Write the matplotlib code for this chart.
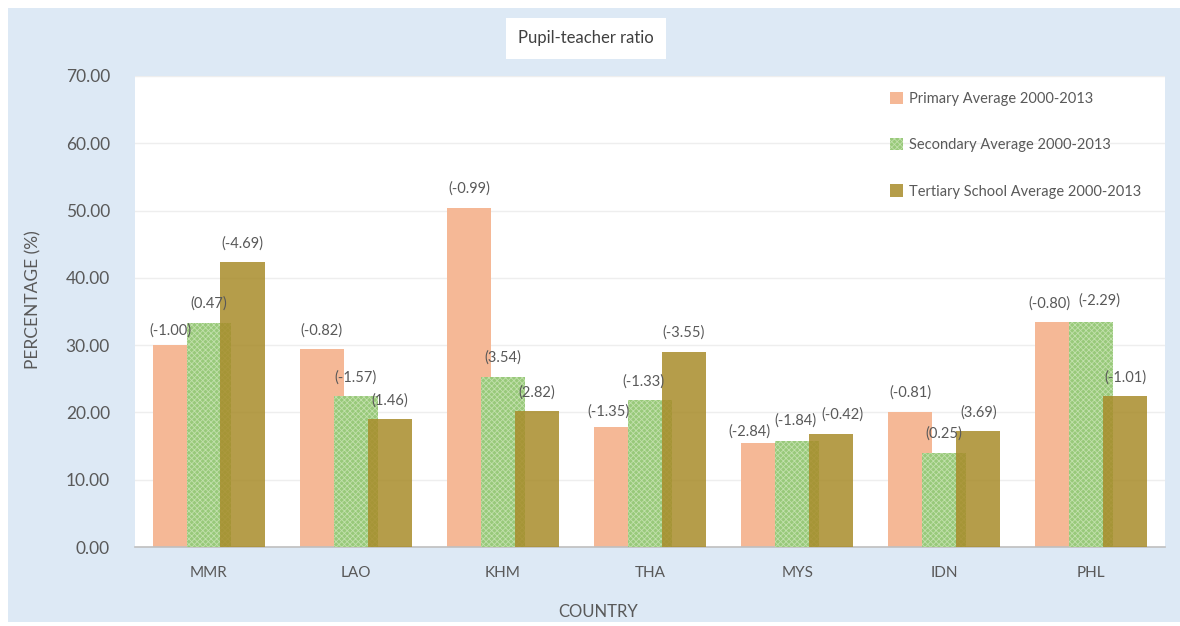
import numpy as np
import matplotlib.pyplot as plt
from matplotlib.patches import Rectangle

plt.rcParams['font.family'] = ['Lato', 'DejaVu Sans']
plt.rcParams['hatch.linewidth'] = 0.6

countries = ['MMR', 'LAO', 'KHM', 'THA', 'MYS', 'IDN', 'PHL']
primary = [30.0, 29.4, 50.4, 17.8, 15.5, 20.1, 33.4]
secondary = [33.3, 22.4, 25.3, 21.8, 15.7, 14.0, 33.5]
tertiary = [42.3, 19.0, 20.2, 29.0, 16.8, 17.2, 22.4]
primary_lbl = ['(-1.00)', '(-0.82)', '(-0.99)', '(-1.35)', '(-2.84)', '(-0.81)', '(-0.80)']
secondary_lbl = ['(0.47)', '(-1.57)', '(3.54)', '(-1.33)', '(-1.84)', '(0.25)', '(-2.29)']
tertiary_lbl = ['(-4.69)', '(1.46)', '(2.82)', '(-3.55)', '(-0.42)', '(3.69)', '(-1.01)']

# pixel nudges for labels that would otherwise collide: (series, country) -> (dx, dy)
nudge = {(0, 0): (-4, -4), (0, 3): (-8, -3), (1, 3): (-7, 0),
         (0, 4): (-14, -8), (1, 4): (-2, 2), (2, 4): (11, 0),
         (0, 6): (-8, 0), (1, 6): (8, 2)}

txt = '#595959'
bg = '#dde9f5'

fig = plt.figure(figsize=(11.8, 6.26), dpi=100)
fig.patch.set_facecolor('white')
fig.patches.append(Rectangle((8/1180, 0.006), 1 - 8/1180, 1 - 8/626 - 0.006,
                             transform=fig.transFigure, facecolor=bg,
                             edgecolor='none', zorder=-10))

ax = fig.add_axes([135/1180, 1 - 547/626, 1030/1180, 471/626])
ax.set_facecolor('white')

x = np.arange(len(countries))
w = 0.30
step = 0.231

b1 = ax.bar(x - step, primary, w, color='#f5b896', linewidth=0, zorder=2,
            label='Primary Average 2000-2013')
b2 = ax.bar(x, secondary, w, facecolor='#98c97a', edgecolor='#c2e0ac',
            hatch='xxxxxx', linewidth=0, zorder=3,
            label='Secondary Average 2000-2013')
b3 = ax.bar(x + step, tertiary, w, color='#a88c2a', alpha=0.85, linewidth=0,
            zorder=4, label='Tertiary School Average 2000-2013')

for k, (bars, labels) in enumerate([(b1, primary_lbl), (b2, secondary_lbl),
                                    (b3, tertiary_lbl)]):
    for i, (bar, lab) in enumerate(zip(bars, labels)):
        dx, dy = nudge.get((k, i), (0, 0))
        ax.annotate(lab, (bar.get_x() + bar.get_width() / 2, bar.get_height()),
                    xytext=(dx, 19 + dy), textcoords='offset pixels',
                    ha='center', va='center', fontsize=10.5, color=txt, zorder=5)

ax.set_xlim(-0.5, 6.5)
ax.set_ylim(0, 70)
ax.set_yticks(np.arange(0, 71, 10))
ax.set_yticklabels(['%.2f' % v for v in np.arange(0, 71, 10)])
ax.set_xticks(x)
ax.set_xticklabels(countries)
ax.tick_params(axis='both', length=0, colors=txt)
ax.tick_params(axis='y', pad=18, labelsize=12.5)
ax.tick_params(axis='x', pad=14, labelsize=11)
ax.grid(axis='y', color='#eeeeee', linewidth=1, zorder=0)
ax.set_axisbelow(True)
for s in ['top', 'right', 'left']:
    ax.spines[s].set_visible(False)
ax.spines['bottom'].set_color('#bfbfbf')
ax.spines['bottom'].set_linewidth(1.2)

fig.text(33/1180, 1 - 300/626, 'PERCENTAGE (%)', rotation=90, ha='center',
         va='center', fontsize=12.5, color=txt)
fig.text(598/1180, 1 - 612/626, 'COUNTRY', ha='center', va='center',
         fontsize=12, color=txt)
fig.text(586/1180, 1 - 38/626, 'Pupil-teacher ratio', ha='center', va='center',
         fontsize=12, color='#404040',
         bbox=dict(facecolor='white', edgecolor='none', boxstyle='square,pad=0.75'))

ax.legend(loc='upper left', bbox_to_anchor=(877/1180, 1 - 79/626),
          bbox_transform=fig.transFigure, frameon=False, fontsize=10.5,
          labelcolor=txt, handlelength=0.9, handleheight=0.9, handletextpad=0.4,
          labelspacing=2.2)

fig.savefig('out.png', dpi=100, facecolor=fig.get_facecolor())
